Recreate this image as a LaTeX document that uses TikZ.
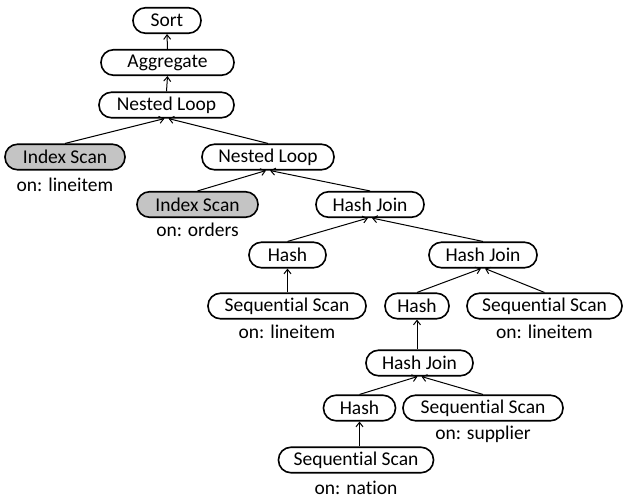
\documentclass[tikz,border=0pt]{standalone}
\usepackage{fontspec}
\setmainfont{Carlito}[RawFeature=-liga]
\usetikzlibrary{arrows.meta}
\definecolor{scanfill}{RGB}{196,196,196}
\begin{document}
\begin{tikzpicture}[x=1pt,y=-1pt,
  op/.style={draw=black,line width=1.6pt,rounded corners=12.5pt,minimum height=25.5pt,inner sep=0pt,font=\fontsize{19.5}{21}\selectfont},
  idx/.style={op,fill=scanfill},
  lbl/.style={inner sep=0pt,font=\fontsize{19.5}{21}\selectfont},
  arr/.style={draw=black,line width=1pt,-{Straight Barb[length=4.5pt,width=7pt,line width=1pt]}}]
\useasboundingbox (0,0) rectangle (624,498);
\node[op,minimum width=68pt] (sort) at (167,20.5) {Sort};
\node[op,minimum width=133pt] (agg) at (167.5,62.5) {Aggregate};
\node[op,minimum width=135pt] (nl1) at (166.5,105) {Nested Loop};
\node[idx,minimum width=120pt] (is1) at (65,157) {Index Scan};
\node[lbl] (l1) at (65,184.5) {on: lineitem};
\node[op,minimum width=132pt] (nl2) at (268,157) {Nested Loop};
\node[idx,minimum width=121pt] (is2) at (197.5,204.5) {Index Scan};
\node[lbl] (l2) at (197.5,229.5) {on: orders};
\node[op,minimum width=108pt] (hj1) at (370,204.5) {Hash Join};
\node[op,minimum width=77pt] (h1) at (287.5,255) {Hash};
\node[op,minimum width=108pt] (hj2) at (483,255) {Hash Join};
\node[op,minimum width=158pt] (ss1) at (287,306) {Sequential Scan};
\node[lbl] (l3) at (287,331.5) {on: lineitem};
\node[op,minimum width=64pt] (h2) at (417,306) {Hash};
\node[op,minimum width=155pt] (ss2) at (544.5,306) {Sequential Scan};
\node[lbl] (l4) at (544.5,331.5) {on: lineitem};
\node[op,minimum width=107pt] (hj3) at (419.5,363) {Hash Join};
\node[op,minimum width=72pt] (h3) at (359.5,408) {Hash};
\node[op,minimum width=160pt] (ss3) at (483,408) {Sequential Scan};
\node[lbl] (l5) at (483,434.5) {on: supplier};
\node[op,minimum width=155pt] (ss4) at (356,460) {Sequential Scan};
\node[lbl] (l6) at (356,487.5) {on: nation};
\draw[arr] (agg.north) -- (sort.south);
\draw[arr] (nl1.north) -- (agg.south);
\draw[arr] (is1.north) -- ([xshift=-2pt]nl1.south);
\draw[arr] (nl2.north) -- ([xshift=2pt]nl1.south);
\draw[arr] (is2.north) -- ([xshift=-2pt]nl2.south);
\draw[arr] (hj1.north) -- ([xshift=2pt]nl2.south);
\draw[arr] (h1.north) -- ([xshift=-2pt]hj1.south);
\draw[arr] (hj2.north) -- ([xshift=2pt]hj1.south);
\draw[arr] (ss1.north -| h1.south) -- (h1.south);
\draw[arr] (h2.north) -- ([xshift=-2pt]hj2.south);
\draw[arr] (ss2.north) -- ([xshift=2pt]hj2.south);
\draw[arr] (hj3.north -| h2.south) -- (h2.south);
\draw[arr] (h3.north) -- ([xshift=-2pt]hj3.south);
\draw[arr] (ss3.north) -- ([xshift=2pt]hj3.south);
\draw[arr] (ss4.north -| h3.south) -- (h3.south);
\end{tikzpicture}
\end{document}
